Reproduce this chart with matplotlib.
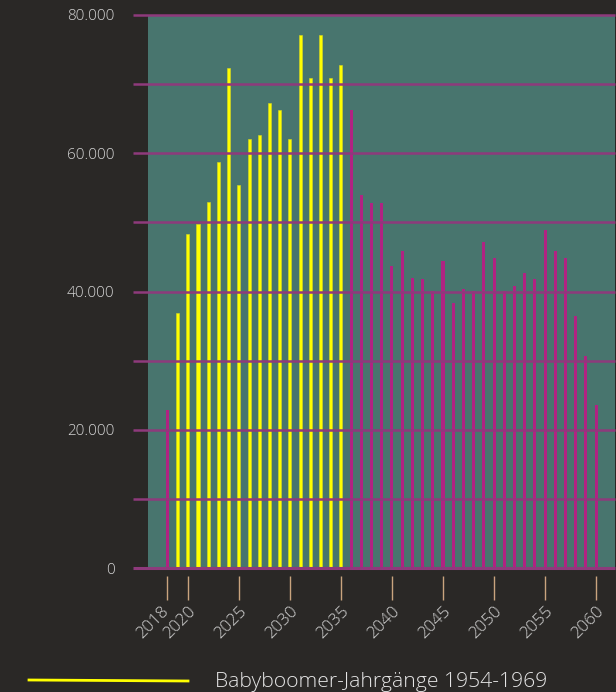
import matplotlib
matplotlib.use("Agg")
import matplotlib.pyplot as plt
import matplotlib.transforms as mtransforms
from matplotlib.lines import Line2D

# ---- data ----
years_pre = [2018]
values_pre = [22900]
years_boom = list(range(2019, 2036))
values_boom = [36900, 48300, 49800, 52900, 58700, 72300, 55400, 62000, 62600,
               67300, 66300, 62000, 77100, 70900, 77100, 70900, 72700]
years_post = list(range(2036, 2061))
values_post = [66300, 53900, 52800, 52800, 43700, 45800, 42000, 41800, 40100,
               44400, 38300, 40400, 40100, 47200, 44900, 40100, 40800, 42700,
               41800, 48900, 45800, 44900, 36500, 30700, 23600]
xticks = [2018, 2020, 2025, 2030, 2035, 2040, 2045, 2050, 2055, 2060]
yticks = [0, 20000, 40000, 60000, 80000]
ytick_labels = ["0", "20.000", "40.000", "60.000", "80.000"]
grid_values = [10000, 20000, 30000, 40000, 50000, 60000, 70000, 80000]
legend_label = "Babyboomer-Jahrgänge 1954-1969"

BG = "#2a2826"
TEAL = "#48756e"
GRID = "#8e3a7c"
MAGENTA = "#b02382"
YELLOW = "#ffff00"
TEXT = "#d4d4d4"
TICK = "#c9a47e"

plt.rcParams["font.family"] = ["Open Sans", "DejaVu Sans"]

W, H = 616, 692
fig = plt.figure(figsize=(W / 100, H / 100), dpi=100, facecolor=BG)
ax = fig.add_axes([148 / W, (H - 568) / H, (615 - 148) / W, (568 - 15) / H])
ax.set_facecolor(TEAL)

bw = 0.3
ax.bar(years_pre, values_pre, width=bw, color=MAGENTA, zorder=2)
ax.bar(years_boom, values_boom, width=bw, color=YELLOW, edgecolor="#d8d820",
       linewidth=0.4, zorder=2)
ax.bar(years_post, values_post, width=bw, color=MAGENTA, zorder=2)

ax.set_xlim(2016.1, 2061.85)
ax.set_ylim(0, 80000)

# gridlines extending slightly left of the plot
ax.hlines(grid_values, -15 / 467, 1, transform=ax.get_yaxis_transform(),
          colors=GRID, linewidth=1.8, clip_on=False, zorder=3)
ax.hlines([0], -15 / 467, 1, transform=ax.get_yaxis_transform(),
          colors=GRID, linewidth=2.2, clip_on=False, zorder=3)

for s in ax.spines.values():
    s.set_visible(False)
ax.spines["bottom"].set_position(("outward", 6))

ax.set_xticks(xticks)
ax.set_xticklabels([str(x) for x in xticks], rotation=45, ha="right",
                   va="top", rotation_mode="anchor", fontsize=12.2,
                   color=TEXT, fontweight="light")
ax.tick_params(axis="x", length=17.5, width=1, color=TICK, pad=2)
# nudge the first label left so it does not collide with 2020
first = ax.get_xticklabels()[0]
first.set_transform(first.get_transform() +
                    mtransforms.ScaledTranslation(-7 / 100, 0, fig.dpi_scale_trans))

ax.set_yticks(yticks)
ax.set_yticklabels(ytick_labels, fontsize=11, color=TEXT, fontweight="light")
ax.tick_params(axis="y", length=0, pad=24)

# legend
fig.add_artist(Line2D([29 / W, 188 / W], [1 - 680 / H, 1 - 681 / H],
                      transform=fig.transFigure, color=YELLOW, linewidth=2))
fig.text(215 / W, 1 - 687 / H, legend_label, fontsize=15.2, color="#e6e6e6",
         ha="left", va="baseline", fontweight="light")

fig.savefig("out.png", dpi=100, facecolor=BG)
